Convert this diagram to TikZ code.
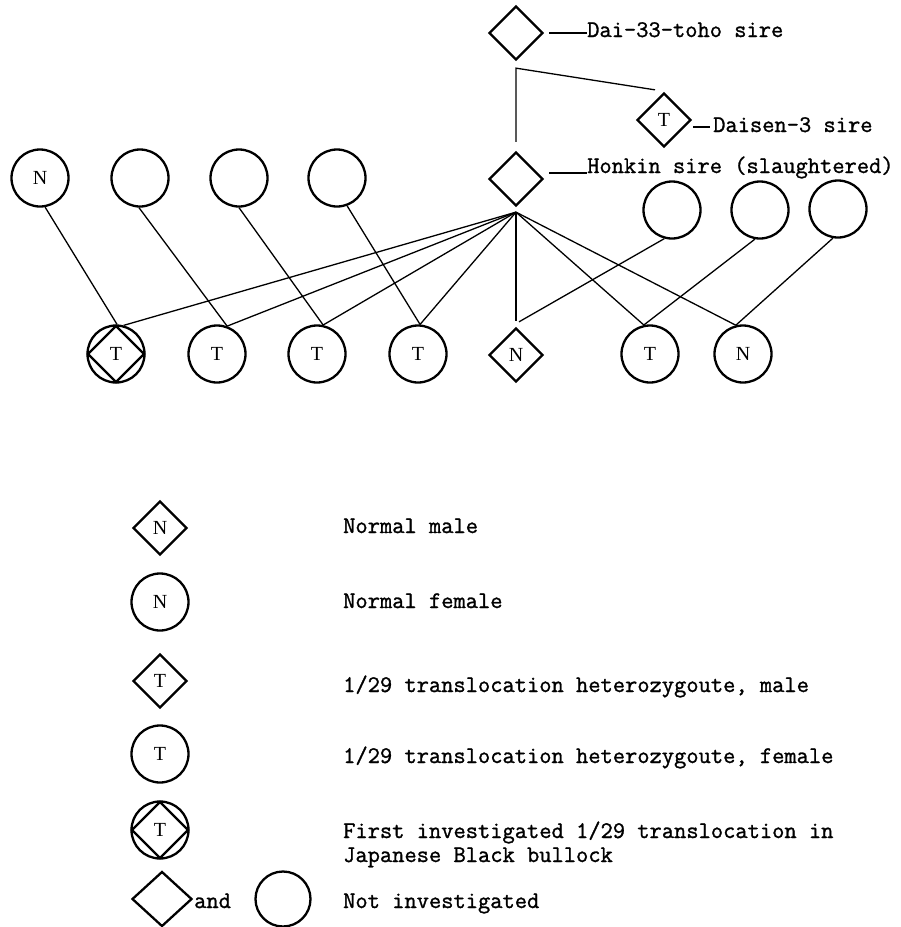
\documentclass[tikz,border=0pt]{standalone}
\usepackage{fontspec}
\usetikzlibrary{shapes.geometric}
\usetikzlibrary{calc}
\newfontfamily\pedserif{Liberation Serif}
\newfontfamily\pedmono[FakeBold=1.2]{Latin Modern Mono}
\newcommand{\pedletter}{\pedserif\fontsize{20}{20}\selectfont}
\newcommand{\pedtext}{\pedmono\fontsize{23.8}{24}\selectfont}

\begin{document}
\begin{tikzpicture}[x=1pt, y=-1pt,
  male/.style={draw, diamond, line width=2.3pt, minimum width=54pt, minimum height=54pt, inner sep=0pt, font=\pedletter},
  female/.style={draw, circle, line width=2.3pt, minimum size=57pt, inner sep=0pt, font=\pedletter},
  link/.style={line width=1.3pt},
  note/.style={inner sep=0pt, anchor=base west, font=\pedtext}]

  \useasboundingbox (0,0) rectangle (901,927);

  \node[male] (dai) at (516,33) {};
  \node[male] (daisen) at (664,120) {T};
  \node[male] (honkin) at (516,179) {};
  \node[note] (daiLab) at (587,37) {Dai-33-toho sire};
  \node[note] (daisenLab) at (713,132) {Daisen-3 sire};
  \node[note] (honkinLab) at (587,173) {Honkin sire (slaughtered)};
  \draw[link] ([xshift=5pt]dai.east) -- (dai.east -| daiLab.west);
  \draw[link] ($(daisenLab.base west)+(-20,-5)$) -- ($(daisenLab.base west)+(-3,-5)$);
  \draw[link] ($(honkin.east |- honkinLab.base)+(5,0)$) -- (honkinLab.base west);

  \coordinate (fork) at ($(dai.south)+(0,7)$);
  \coordinate (honkinTop) at ($(honkin.north)+(0,-9)$);
  \coordinate (daisenTop) at ($(daisen.north)+(-9,-2)$);
  \draw[link] (honkinTop) -- (fork) -- (daisenTop);

  \node[female] (m1) at (40,178) {N};
  \node[female] (m2) at (140,178) {};
  \node[female] (m3) at (239,178) {};
  \node[female] (m4) at (337,178) {};
  \node[female] (m5) at (672,210) {};
  \node[female] (m6) at (760,210) {};
  \node[female] (m7) at (838,209) {};

  \node[female] (c1) at (116,354) {};
  \node[male, minimum width=57pt, minimum height=57pt] (c1x) at (c1) {T};
  \node[female] (c2) at (217,354) {T};
  \node[female] (c3) at (317,354) {T};
  \node[female] (c4) at (418,354) {T};
  \node[male] (c5) at (516,355) {N};
  \node[female] (c6) at (650,354) {T};
  \node[female] (c7) at (743,354) {N};

  \coordinate (hub) at ($(honkin.south)+(0,5)$);
  \coordinate (c5top) at ($(c5.north)+(0,-6)$);
  \draw[link] (hub) -- (c1.75);
  \draw[link] (hub) -- (c2.70);
  \draw[link] (hub) -- (c3.78);
  \draw[link] (hub) -- (c4.86);
  \draw[link] (hub) -- (c5top);
  \draw[link] (hub) -- (c6.102);
  \draw[link] (hub) -- (c7.104);

  \draw[link] (m1.-80) -- (c1.88);
  \draw[link] (m2.-92) -- (c2.70);
  \draw[link] (m3.-90) -- (c3.78);
  \draw[link] (m4.-70) -- (c4.86);
  \draw[link] (m5.-105) -- ($(c5top)+(3,1)$);
  \draw[link] (m6.-100) -- (c6.102);
  \draw[link] (m7.-100) -- (c7.104);

  \node[male] (keyNm) at (160,528) {N};
  \node[female] (keyNf) at (160,602) {N};
  \node[male] (keyTm) at (160,681) {T};
  \node[female] (keyTf) at (160,754) {T};
  \node[female] (keyFirst) at (160,830) {};
  \node[male, minimum width=57pt, minimum height=57pt] (keyFirstx) at (keyFirst) {T};
  \node[male, minimum width=60pt, minimum height=55pt] (keyNi) at (162,899) {};
  \node[female, minimum size=55pt] (keyNif) at (283,899) {};
  \node[note] (andLab) at (194,908) {and};

  \node[note] (keyNmLab) at (343,533) {Normal male};
  \node[note] (keyNfLab) at (343,608) {Normal female};
  \node[note] (keyTmLab) at (343,692) {1/29 translocation heterozygoute, male};
  \node[note] (keyTfLab) at (343,763) {1/29 translocation heterozygoute, female};
  \node[note] (keyFirstLab) at (343,838) {First investigated 1/29 translocation in};
  \node[note] (keyFirstLab2) at (343,862) {Japanese Black bullock};
  \node[note] (keyNiLab) at (343,908) {Not investigated};

\end{tikzpicture}
\end{document}
